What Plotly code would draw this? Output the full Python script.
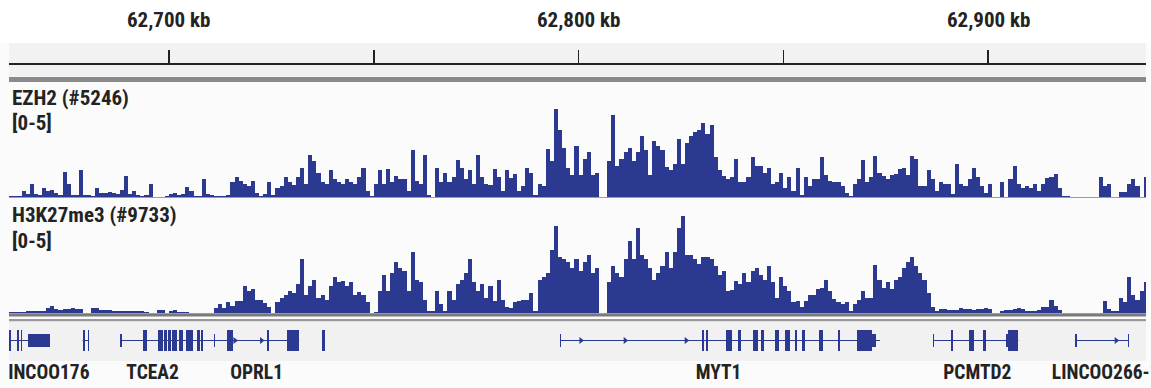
import numpy as np
import plotly.graph_objects as go

# ---------------- data ----------------
bin_start_kb = 62661          # first 1-kb bin start (kb)
bin_size_kb = 1.0

ezh2 = [
 0.07,0.07,0.05,0.3,0.15,0.6,0.15,0.12,0.4,0.3,
 0.35,0.2,0.1,1.15,0.6,0.1,0.1,1.2,0.1,0.1,
 0.05,0.4,0.2,0.2,0.25,0.2,0.15,0.35,0.93,0.15,
 0.3,0.1,0.05,0.1,0.6,0.03,0.03,0.03,0.05,0.15,
 0.2,0.1,0.15,0.45,0.3,0.05,0.05,0.8,0.15,0.1,
 0.05,0.05,0.05,0.1,0.7,0.9,0.75,0.6,0.5,0.75,
 0.2,0.05,0.15,0.7,0.1,0.4,0.5,0.9,0.7,0.55,
 0.9,1.3,0.6,1.9,1.6,1.1,0.7,0.6,1.2,0.8,
 0.7,0.6,0.8,0.7,0.6,0.9,1.3,0.3,0.05,0.6,
 1.2,0.6,1.25,0.7,0.95,0.8,0.8,0.3,2.1,0.75,
 0.6,1.9,0.1,0.03,1.3,0.7,1.1,0.7,0.9,1.65,
 1.3,0.8,1.2,0.6,1.9,0.9,0.6,0.55,1.25,0.9,
 0.3,1.2,0.85,1.05,0.3,0.5,1.3,1.1,0.1,0.6,
 0.5,2.15,1.6,3.9,3.0,2.2,1.3,1.0,2.3,1.0,
 1.7,2.0,1.0,1.1,0.02,0.02,1.6,3.65,1.4,1.7,
 2.0,2.2,1.6,2.0,2.7,2.1,1.0,2.5,2.3,2.1,
 1.35,1.2,1.5,2.6,1.5,2.4,2.7,2.9,3.0,3.3,
 2.8,3.2,1.8,1.2,0.95,0.8,0.9,1.7,0.7,0.7,
 0.9,1.8,1.4,1.4,1.1,1.3,0.6,0.7,1.1,0.4,
 0.9,0.3,1.3,0.1,0.9,0.5,0.8,0.8,1.8,1.0,
 0.75,0.7,0.7,0.5,0.2,0.05,0.6,0.8,1.65,0.7,
 0.9,1.85,1.1,0.95,0.8,1.0,1.05,1.25,1.3,1.0,
 1.85,1.7,0.5,0.5,1.2,0.8,0.3,0.7,0.6,0.6,
 0.15,1.5,0.6,0.5,0.8,1.3,0.9,0.5,0.2,0.6,
 0.03,0.03,0.7,0.03,0.8,1.4,0.6,0.4,0.5,0.4,
 0.6,0.3,0.6,0.85,0.9,1.05,0.4,0.05,0.08,0.03,
 0.03,0.03,0.03,0.03,0.03,0.03,0.9,0.5,0.6,0.03,
 0.03,0.25,0.25,0.6,0.8,0.5,0.03,0.9,
]

h3k27me3 = [
 0.07,0.07,0.07,0.07,0.1,0.12,0.12,0.12,0.12,0.25,
 0.33,0.2,0.15,0.22,0.2,0.25,0.22,0.2,0.02,0.02,
 0.25,0.25,0.15,0.15,0.15,0.12,0.1,0.1,0.1,0.1,
 0.1,0.1,0.1,0.08,0.02,0.02,0.15,0.15,0.02,0.1,
 0.15,0.08,0.08,0.08,0.02,0.02,0.02,0.02,0.02,0.02,
 0.25,0.4,0.25,0.5,0.35,0.55,0.55,1.2,1.0,1.1,
 0.6,0.6,0.45,0.3,0.02,0.5,0.7,0.8,1.0,0.9,
 1.3,2.4,0.8,1.2,1.5,0.7,0.8,0.6,1.2,1.6,
 1.4,1.45,1.2,1.4,0.8,0.95,0.8,0.5,0.02,0.05,
 1.0,1.7,1.0,1.8,2.3,2.0,1.9,1.0,2.7,1.5,
 1.4,0.6,0.1,0.1,1.0,0.4,0.1,1.0,0.6,1.3,
 1.5,1.8,2.4,1.4,1.0,1.3,0.7,1.2,0.55,1.5,
 0.6,0.3,0.25,0.5,0.55,0.6,0.6,0.9,0.1,1.5,
 1.6,1.8,2.8,3.85,2.5,2.4,2.3,2.0,2.4,1.9,
 2.3,2.6,1.8,2.0,0.02,0.02,1.4,2.1,1.8,1.6,
 2.4,3.2,2.4,3.8,2.6,2.4,2.0,1.5,1.8,2.1,
 2.7,2.0,2.7,3.8,4.3,2.6,2.6,2.4,2.2,2.5,
 2.5,2.4,2.1,1.7,1.9,1.0,1.05,1.45,1.3,1.8,
 1.4,1.9,2.0,1.7,1.5,2.1,1.4,0.7,1.6,1.2,
 1.0,0.5,0.55,0.3,0.55,0.8,0.8,1.1,1.15,1.5,
 1.0,0.65,0.5,0.4,0.5,0.1,0.4,0.6,1.0,0.7,
 0.7,2.15,1.5,1.15,1.4,1.1,1.5,1.6,2.0,2.3,
 2.5,2.1,1.8,1.5,0.9,0.3,0.1,0.22,0.18,0.15,
 0.15,0.17,0.25,0.2,0.2,0.17,0.2,0.2,0.25,0.2,
 0.02,0.02,0.12,0.16,0.16,0.2,0.25,0.18,0.1,0.1,
 0.1,0.15,0.3,0.3,0.6,0.35,0.15,0.02,0.02,0.02,
 0.02,0.02,0.02,0.02,0.02,0.02,0.02,0.55,0.2,0.12,
 0.12,0.7,0.5,1.6,0.8,0.6,1.0,1.4,
]

track_names = ["EZH2 (#5246)", "H3K27me3 (#9733)"]
track_range_label = "[0-5]"
track_max = 5

view_start_kb = 62660.93
view_end_kb = 62938.58

ruler_ticks_kb = [62700, 62750, 62800, 62850, 62900]
ruler_label_kb = [62700, 62800, 62900]
ruler_labels = ["62,700 kb", "62,800 kb", "62,900 kb"]

# gene bodies (kb)
gene_line_start = [62661.0, 62678.9, 62688.2, 62795.5, 62886.6, 62921.4]
gene_line_end   = [62670.9, 62680.5, 62731.8, 62873.6, 62907.4, 62934.3]

# exons (kb) and kind: 1 = coding (tall), 0 = UTR / small
exon_start = [62661.05, 62662.9, 62663.8, 62665.6,
              62678.9, 62680.1,
              62688.1, 62693.6, 62697.4, 62698.85, 62699.83, 62700.66, 62702.52, 62704.15,
              62706.76, 62707.81, 62710.99, 62714.09, 62723.86, 62728.74, 62737.24,
              62795.4, 62830.2, 62831.1, 62836.0, 62838.85, 62842.5, 62844.6, 62848.0,
              62850.4, 62852.9, 62854.5, 62858.7, 62863.4, 62868.0, 62869.7, 62871.6,
              62886.5, 62890.89, 62895.43, 62898.85, 62904.4, 62904.9,
              62921.3, 62934.1]
exon_end   = [62661.45, 62663.3, 62664.2, 62670.9,
              62679.45, 62680.5,
              62688.45, 62694.55, 62698.6, 62699.44, 62700.41, 62701.88, 62703.35, 62705.93,
              62707.57, 62708.38, 62711.35, 62715.56, 62724.35, 62731.75, 62738.1,
              62795.75, 62830.7, 62831.6, 62837.5, 62839.6, 62843.8, 62845.2, 62849.0,
              62851.6, 62853.4, 62855.2, 62859.7, 62863.9, 62869.8, 62871.6, 62872.7,
              62886.85, 62891.38, 62896.58, 62899.51, 62904.9, 62907.4,
              62921.65, 62934.4]
exon_kind  = [1, 1, 1, 0,
              1, 1,
              0, 1, 1, 1, 1, 1, 1, 1,
              1, 1, 0, 1, 1, 1, 1,
              0, 1, 1, 1, 1, 1, 1, 1,
              1, 1, 1, 1, 1, 1, 1, 0,
              0, 1, 1, 1, 0, 1,
              0, 0]

strand_arrow_kb = [62716.1, 62722.6, 62800.6, 62811.4, 62826.3, 62931.3]

gene_labels = ["LINCOO176", "TCEA2", "OPRL1", "MYT1", "PCMTD2", "LINCOO266-1"]
gene_label_kb = [62680.6, 62696.0, 62721.4, 62834.2, 62897.4, 62915.6]
gene_label_anchor = ["middle left", "middle center", "middle center", "middle center",
                     "middle center", "middle right"]

# ---------------- layout helpers ----------------
W, H = 1151, 388
PX_PER_KB = 4.095
def py(px):
    return 1 - px / H

x_dom = [9 / W, 1146 / W]
BLUE = "#2b3990"
TXT = "#232323"
FONT = "Liberation Sans Narrow, Arial Narrow, Roboto Condensed, Liberation Sans, sans-serif"

centers = bin_start_kb + bin_size_kb * (np.arange(len(ezh2)) + 0.5)
centers2 = bin_start_kb + bin_size_kb * (np.arange(len(h3k27me3)) + 0.5)

fig = go.Figure()

fig.add_trace(go.Bar(x=centers, y=ezh2, width=bin_size_kb, marker_color=BLUE,
                     marker_line_width=0, xaxis="x", yaxis="y", hoverinfo="skip"))
fig.add_trace(go.Bar(x=centers2, y=h3k27me3, width=bin_size_kb, marker_color=BLUE,
                     marker_line_width=0, xaxis="x2", yaxis="y2", hoverinfo="skip"))

# gene lines
gx, gy = [], []
for s, e in zip(gene_line_start, gene_line_end):
    gx += [s, e, None]
    gy += [0, 0, None]
fig.add_trace(go.Scatter(x=gx, y=gy, mode="lines", line=dict(color=BLUE, width=1.2),
                         xaxis="x3", yaxis="y3", hoverinfo="skip"))
# exons
ex_s = np.array(exon_start)
ex_e = np.array(exon_end)
ex_h = np.where(np.array(exon_kind) == 1, 1.2, 0.75)
ex_w = np.maximum(ex_e - ex_s, 0.35)
fig.add_trace(go.Bar(x=(ex_s + ex_e) / 2, y=ex_h, base=-ex_h / 2, width=ex_w,
                     marker_color=BLUE, marker_line_width=0,
                     xaxis="x3", yaxis="y3", hoverinfo="skip"))
# strand arrows
fig.add_trace(go.Scatter(x=strand_arrow_kb, y=[0] * len(strand_arrow_kb), mode="markers",
                         marker=dict(symbol="triangle-right", size=6, color=BLUE),
                         xaxis="x3", yaxis="y3", hoverinfo="skip"))
# gene labels
for name, kb, pos in zip(gene_labels, gene_label_kb, gene_label_anchor):
    fig.add_trace(go.Scatter(x=[kb], y=[0.5], mode="text", text=[name], textposition=pos,
                             textfont=dict(family=FONT, size=19.5, color=TXT, weight="bold"),
                             cliponaxis=True, xaxis="x5", yaxis="y5", hoverinfo="skip"))
# ruler anchor trace
fig.add_trace(go.Scatter(x=[ruler_ticks_kb[0]], y=[0.5], mode="markers",
                         marker=dict(opacity=0), xaxis="x4", yaxis="y4", hoverinfo="skip"))

hidden = dict(visible=False, showgrid=False, zeroline=False)
fig.update_layout(
    width=W, height=H, autosize=False,
    margin=dict(l=0, r=0, t=0, b=0),
    paper_bgcolor="#fbfbfb", plot_bgcolor="rgba(0,0,0,0)",
    showlegend=False, barmode="overlay", bargap=0,
    xaxis=dict(domain=x_dom, range=[view_start_kb, view_end_kb], anchor="y", **hidden),
    yaxis=dict(domain=[py(197.5), py(84.5)], range=[0, track_max], anchor="x", **hidden),
    xaxis2=dict(domain=x_dom, range=[view_start_kb, view_end_kb], anchor="y2", **hidden),
    yaxis2=dict(domain=[py(313.5), py(200.5)], range=[0, track_max], anchor="x2", **hidden),
    xaxis3=dict(domain=x_dom, range=[view_start_kb, view_end_kb], anchor="y3", **hidden),
    yaxis3=dict(domain=[py(358.5), py(322.5)], range=[-1, 1], anchor="x3", **hidden),
    xaxis4=dict(domain=x_dom, range=[view_start_kb, view_end_kb], anchor="y4",
                visible=True, showgrid=False, zeroline=False, showline=True,
                linecolor="#222222", linewidth=2, ticks="inside", ticklen=13,
                tickwidth=1.5, tickcolor="#222222", tickvals=ruler_ticks_kb,
                showticklabels=False),
    yaxis4=dict(domain=[py(63), py(45)], range=[0, 1], anchor="x4", **hidden),
    xaxis5=dict(domain=[9 / W, 1], range=[view_start_kb, view_start_kb + (W - 9) / PX_PER_KB],
                anchor="y5", **hidden),
    yaxis5=dict(domain=[py(388), py(360)], range=[0, 1], anchor="x5", **hidden),
)

shapes = [
    dict(type="rect", xref="paper", yref="paper", x0=0, x1=1, y0=py(43), y1=1,
         fillcolor="#ffffff", line_width=0, layer="below"),
    dict(type="rect", xref="paper", yref="paper", x0=x_dom[0], x1=x_dom[1], y0=py(76.5), y1=py(43),
         fillcolor="#f2f2f2", line_width=0, layer="below"),
    dict(type="rect", xref="paper", yref="paper", x0=x_dom[0], x1=x_dom[1], y0=py(82), y1=py(77),
         fillcolor="#8a8a8a", line_width=0, layer="below"),
    dict(type="rect", xref="paper", yref="paper", x0=x_dom[0], x1=x_dom[1], y0=py(316.5), y1=py(314),
         fillcolor="#7a7a7a", line_width=0, layer="below"),
    dict(type="rect", xref="paper", yref="paper", x0=x_dom[0], x1=x_dom[1], y0=py(321.5), y1=py(319),
         fillcolor="#9a9a9a", line_width=0, layer="below"),
    dict(type="rect", xref="paper", yref="paper", x0=x_dom[0], x1=x_dom[1], y0=py(361), y1=py(321.5),
         fillcolor="#f1f1f1", line_width=0, layer="below"),
]
fig.update_layout(shapes=shapes)

ann = []
for kb, lab in zip(ruler_label_kb, ruler_labels):
    ann.append(dict(x=kb, xref="x4", y=py(19.5), yref="paper", text=lab, showarrow=False,
                    xanchor="center", yanchor="middle",
                    font=dict(family=FONT, size=21, color=TXT, weight="bold")))
label_y = [(97.5, 123.5), (215, 241)]
for name, (y1, y2) in zip(track_names, label_y):
    ann.append(dict(x=10 / W, xref="paper", y=py(y1), yref="paper", text=name, showarrow=False,
                    xanchor="left", yanchor="middle",
                    font=dict(family=FONT, size=21, color=TXT, weight="bold")))
    ann.append(dict(x=10 / W, xref="paper", y=py(y2), yref="paper", text=track_range_label,
                    showarrow=False, xanchor="left", yanchor="middle",
                    font=dict(family=FONT, size=21, color=TXT, weight="bold")))
fig.update_layout(annotations=ann)

fig.write_html("out.html", config={"displayModeBar": False, "staticPlot": True},
               post_script="document.body.style.margin='0px';document.body.style.overflow='hidden';")
